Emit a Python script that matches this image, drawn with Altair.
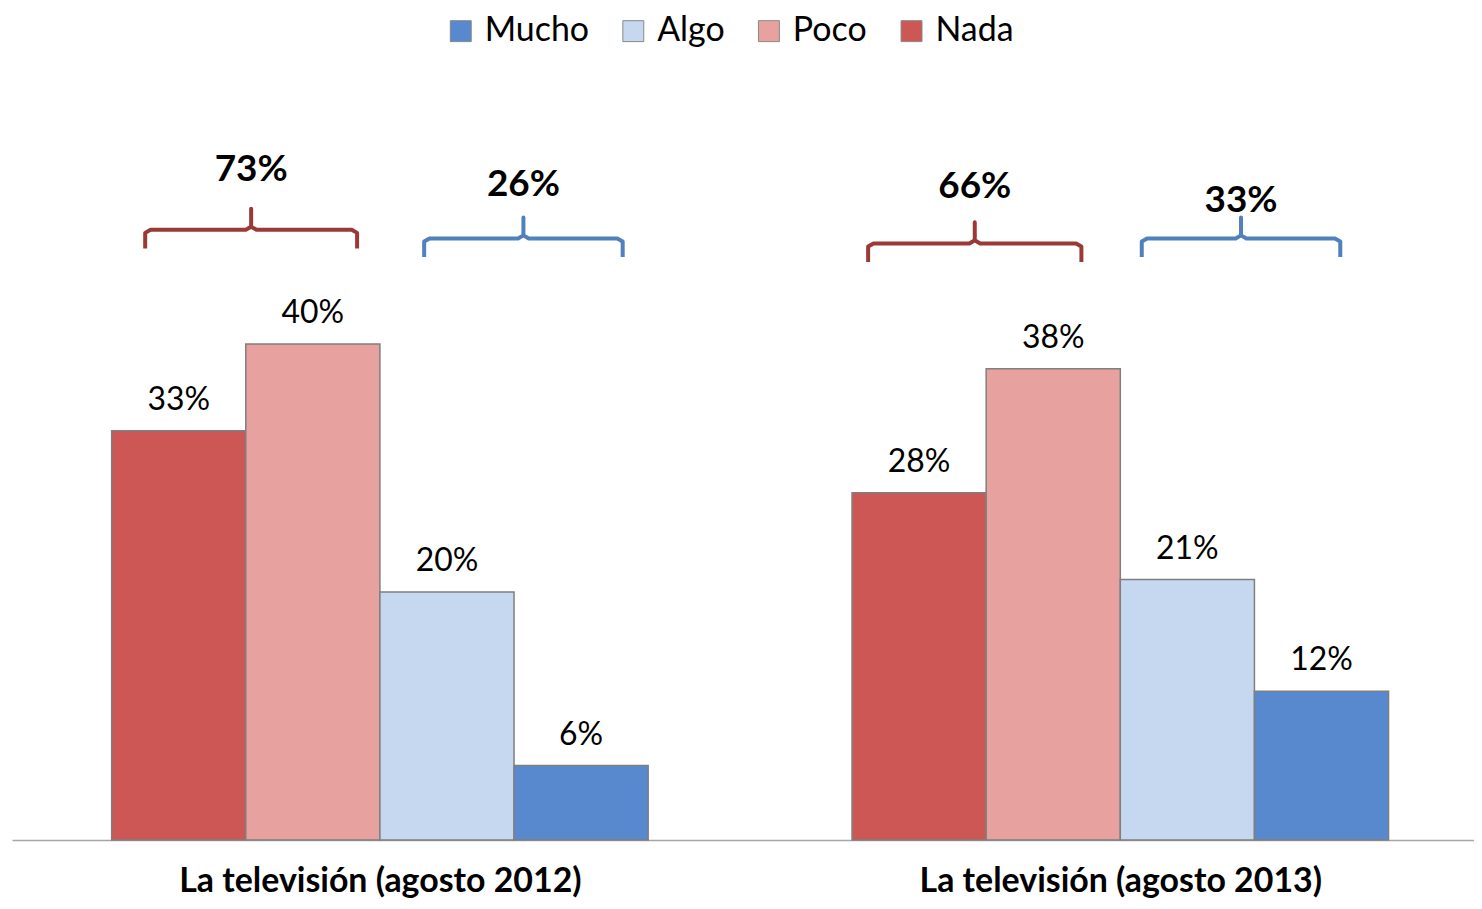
import altair as alt
import pandas as pd

# ---- data ----
groups = ["La televisión (agosto 2012)", "La televisión (agosto 2013)"]
categories = ["Nada", "Poco", "Algo", "Mucho"]
values_2012 = [33, 40, 20, 6]
values_2013 = [28, 38, 21, 12]
legend_order = ["Mucho", "Algo", "Poco", "Nada"]
legend_colors = ["#5889CE", "#C6D7F0", "#E7A2A0", "#CD5755"]

bracket_pairs = [("Nada", "Poco"), ("Algo", "Mucho")]
bracket_colors = ["#9B3936", "#4F81BD"]
bracket_levels = [[49.2, 48.5], [48.1, 48.5]]
bracket_label_levels = [[53.1, 51.9], [51.8, 50.6]]

# ---- layout constants (bracket insets from the bar edges, in bar widths) ----
GROUP_STEP = 5.52
BRACKET_INSETS = [[(0.25, 0.17), (0.33, 0.19)], [(0.12, 0.29), (0.16, 0.36)]]
DROP = 1.5
TIP = 1.7
FONT = "Lato"

series = [values_2012, values_2013]

bar_rows = []
for gi, g in enumerate(groups):
    for ci, c in enumerate(categories):
        x0 = gi * GROUP_STEP + ci
        v = series[gi][ci]
        bar_rows.append({"group": g, "cat": c, "value": v, "base": 0, "x0": x0, "x1": x0 + 1,
                         "xc": x0 + 0.5, "label": f"{v}%"})
bars_df = pd.DataFrame(bar_rows)

path_rows = []
label_rows = []
for gi, g in enumerate(groups):
    for bi, (a, b) in enumerate(bracket_pairs):
        ia, ib = categories.index(a), categories.index(b)
        ins_l, ins_r = BRACKET_INSETS[gi][bi]
        xs = gi * GROUP_STEP + ia + ins_l
        xe = gi * GROUP_STEP + ib + 1 - ins_r
        xm = (xs + xe) / 2
        yl = bracket_levels[gi][bi]
        pts = [(xs, yl - DROP), (xs, yl - 0.25), (xs + 0.04, yl), (xm - 0.04, yl),
               (xm, yl + 0.25), (xm, yl + TIP), (xm, yl + 0.25), (xm + 0.04, yl),
               (xe - 0.04, yl), (xe, yl - 0.25), (xe, yl - DROP)]
        bid = f"{gi}-{bi}"
        for k, (px, py) in enumerate(pts):
            path_rows.append({"bid": bid, "kind": bi, "order": k, "x": px, "y": py})
        total = series[gi][ia] + series[gi][ib]
        label_rows.append({"x": xm, "y": bracket_label_levels[gi][bi], "text": f"{total}%"})
paths_df = pd.DataFrame(path_rows)
blabels_df = pd.DataFrame(label_rows)

centers = [gi * GROUP_STEP + 2 for gi in range(len(groups))]
label_expr = ("datum.value < " + str(GROUP_STEP) + " ? '" + groups[0] + "' : '" + groups[1] + "'")

x_scale = alt.Scale(domain=[-0.743, 10.157], nice=False, zero=False)
y_scale = alt.Scale(domain=[0, 62], nice=False)

bars = alt.Chart(bars_df).mark_rect(stroke="#7F7F7F", strokeWidth=1.5).encode(
    x=alt.X("x0:Q", scale=x_scale,
            axis=alt.Axis(values=centers, labelExpr=label_expr, title=None, grid=False,
                          ticks=False, domainColor="#A6A6A6", domainWidth=1.5,
                          labelFont=FONT, labelFontSize=34, labelFontWeight="bold",
                          labelColor="#000000", labelBaseline="alphabetic",
                          labelPadding=52, labelFlush=False, labelOverlap=False,
                          labelLimit=0)),
    x2="x1:Q",
    y=alt.Y("value:Q", scale=y_scale, axis=None),
    y2="base:Q",
    color=alt.Color("cat:N", scale=alt.Scale(domain=legend_order, range=legend_colors),
                    legend=alt.Legend(title=None, orient="none", direction="horizontal",
                                      legendX=433, legendY=-57, symbolType="square",
                                      symbolSize=440, symbolStrokeColor="#888888",
                                      symbolStrokeWidth=1, labelFont=FONT,
                                      labelFontSize=34, labelColor="#000000",
                                      labelOffset=7, columnPadding=27, labelLimit=0)),
)

value_labels = alt.Chart(bars_df).mark_text(font=FONT, fontSize=32, baseline="alphabetic",
                                            dy=-21, color="#000000").encode(
    x=alt.X("xc:Q", scale=x_scale),
    y=alt.Y("value:Q", scale=y_scale),
    text="label:N",
)

brackets = alt.Chart(paths_df).mark_line(strokeWidth=4, strokeJoin="round", strokeCap="butt").encode(
    x=alt.X("x:Q", scale=x_scale),
    y=alt.Y("y:Q", scale=y_scale),
    detail="bid:N",
    order="order:Q",
    stroke=alt.Stroke("kind:N", scale=alt.Scale(domain=[0, 1], range=bracket_colors), legend=None),
)

bracket_labels = alt.Chart(blabels_df).mark_text(font=FONT, fontSize=37, fontWeight="bold",
                                                 baseline="alphabetic", color="#000000").encode(
    x=alt.X("x:Q", scale=x_scale),
    y=alt.Y("y:Q", scale=y_scale),
    text="text:N",
)

chart = alt.layer(bars, value_labels, brackets, bracket_labels).properties(
    width=1466, height=771,
    autosize=alt.AutoSizeParams(type="none"),
    padding={"left": 4, "top": 62, "right": 0, "bottom": 60},
).configure_view(stroke=None)

chart.save("out.html", embed_options={"renderer": "svg", "actions": False})
